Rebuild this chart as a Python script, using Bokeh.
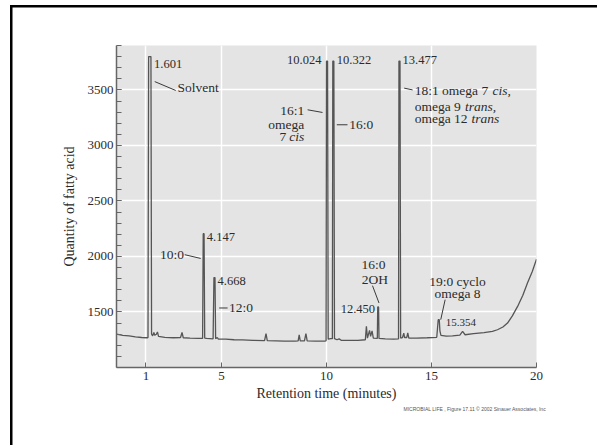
from bokeh.plotting import figure
from bokeh.models import FixedTicker, Title, ColumnDataSource
from bokeh.core.properties import value
from bokeh.embed import file_html
from bokeh.resources import INLINE

# ---- chromatogram trace (retention time in minutes, quantity) ----
time_min = [0.0, 0.3, 0.6, 0.9, 1.2, 1.45, 1.50, 1.53, 1.64, 1.67, 1.72, 1.78, 1.82, 1.90, 1.95, 2.0,
            2.3, 2.7, 3.05, 3.12, 3.18, 3.5, 3.9, 4.10, 4.13, 4.17, 4.20, 4.3, 4.6, 4.64, 4.69, 4.72,
            4.8, 4.85, 5.2, 5.6, 6.0, 6.5, 7.05, 7.12, 7.18, 7.6, 8.0, 8.5, 8.65, 8.7, 8.75, 8.95,
            9.02, 9.08, 9.5, 9.9, 9.98, 10.0, 10.05, 10.08, 10.2, 10.28, 10.30, 10.35, 10.38, 10.5,
            10.6, 10.7, 11.0, 11.5, 11.85, 11.9, 11.95, 12.05, 12.1, 12.17, 12.23, 12.42, 12.44,
            12.48, 12.5, 12.8, 13.2, 13.43, 13.45, 13.5, 13.53, 13.62, 13.68, 13.72, 13.82, 13.87,
            13.92, 14.3, 14.8, 15.25, 15.32, 15.37, 15.4, 15.45, 15.7, 16.0, 16.35, 16.48, 16.6,
            17.0, 17.5, 17.9, 18.14, 18.4, 18.62, 18.85, 19.1, 19.35, 19.57, 19.8, 20.0]
quantity = [1300, 1290, 1285, 1275, 1270, 1268, 1270, 3800, 3800, 1300, 1285, 1315, 1290, 1300, 1320, 1280,
            1272, 1268, 1270, 1315, 1268, 1265, 1262, 1262, 2205, 2205, 1265, 1262, 1258, 1810, 1810, 1260,
            1270, 1255, 1255, 1250, 1248, 1245, 1242, 1305, 1242, 1240, 1238, 1238, 1240, 1295, 1240, 1240,
            1305, 1240, 1238, 1238, 1240, 3760, 3760, 1255, 1260, 1260, 3760, 3760, 1260, 1250,
            1258, 1245, 1245, 1245, 1250, 1370, 1265, 1335, 1280, 1330, 1265, 1262, 1545,
            1545, 1262, 1258, 1255, 1258, 3760, 3760, 1265, 1270, 1310, 1270, 1270, 1312,
            1265, 1265, 1268, 1272, 1430, 1430, 1330, 1290, 1282, 1285, 1292, 1325, 1295,
            1305, 1315, 1325, 1340, 1365, 1400, 1465, 1550, 1650, 1761, 1865, 1975]

# ---- peak annotations ----
ann_text = ["1.601", "Solvent", "4.147", "10:0", "4.668", "12:0", "10.024", "10.322", "13.477",
            "16:1", "omega", "7", "cis", "16:0",
            "18:1 omega 7 ", "cis,", "omega 9 ", "trans,", "omega 12 ", "trans",
            "16:0", "2OH", "12.450", "19:0 cyclo", "omega 8", "15.354"]
ann_x = [1.79, 2.9, 4.3, 3.22, 4.81, 5.36, 9.76, 10.49, 13.62,
         8.94, 8.94, 8.08, 8.94, 11.08,
         14.2, 17.9, 14.2, 16.6, 14.2, 16.9,
         12.24, 12.3, 12.31, 16.24, 16.24, 15.68]
ann_y = [3735, 3522, 2175, 2022, 1775, 1538, 3771, 3771, 3771,
         3315, 3188, 3076, 3076, 3186,
         3492, 3492, 3351, 3351, 3246, 3246,
         1926, 1797, 1527, 1775, 1662, 1401]
ann_align = ["left", "left", "left", "right", "left", "left", "right", "left", "left",
             "right", "right", "right", "right", "left",
             "left", "left", "left", "left", "left", "left",
             "center", "center", "right", "center", "center", "left"]
ann_style = ["normal"] * 12 + ["italic", "normal", "normal", "italic", "normal", "italic", "normal", "italic"] + ["normal"] * 6
ann_size = ["12.5px", "13.5px", "12.5px", "13.5px", "12.5px", "13.5px", "12.5px", "12.5px", "12.5px",
            "13.5px", "13.5px", "13.5px", "13.5px", "13.5px",
            "13.5px", "13.5px", "13.5px", "13.5px", "13.5px", "13.5px",
            "13.5px", "13.5px", "12.5px", "13.5px", "13.5px", "11px"]

# leader lines
lead_x0 = [1.82, 3.25, 4.89, 9.10, 10.49, 13.70, 12.19, 15.65]
lead_y0 = [3575, 2016, 1536, 3321, 3186, 3516, 1737, 1611]
lead_x1 = [2.82, 4.01, 5.29, 9.81, 11.00, 14.10, 12.50, 15.44]
lead_y1 = [3495, 1982, 1536, 3297, 3186, 3500, 1581, 1431]

# ---- axes ----
x_tick_pos = [1.4, 5, 10, 15, 20]
x_tick_labels = ["1", "5", "10", "15", "20"]
y_major_ticks = [1500, 2000, 2500, 3000, 3500]
y_minor_ticks = list(range(1000, 4000, 100))

FONT = "Liberation Serif"
TXT = "#2b2b2b"

p = figure(width=597, height=445, x_range=(0, 20), y_range=(1000, 3900),
           output_backend="svg", toolbar_location=None,
           min_border_left=116, min_border_right=61, min_border_top=45, min_border_bottom=78)
p.background_fill_color = "#e4e4e4"
p.border_fill_color = None
p.outline_line_color = None
# slide frame (black top and left edges) painted behind the transparent canvas
p.styles = {
    "background": ("linear-gradient(#000, #000) 10px 5px / 600px 2.5px no-repeat, "
                   "linear-gradient(#000, #000) 10px 5px / 2.5px 460px no-repeat, #ffffff"),
}

p.line(time_min, quantity, line_color="#555555", line_width=1.3)

p.segment(lead_x0, lead_y0, lead_x1, lead_y1, line_color="#3a3a3a", line_width=1)

src = ColumnDataSource(dict(x=ann_x, y=ann_y, text=ann_text, align=ann_align,
                            style=ann_style, size=ann_size))
p.text(x="x", y="y", text="text", source=src, text_align="align", text_font_style="style",
       text_font_size="size", text_baseline="middle", text_color=TXT, text_font=value(FONT))

# axes styling
p.xaxis.ticker = FixedTicker(ticks=x_tick_pos)
p.xaxis.major_label_overrides = {k: v for k, v in zip(x_tick_pos, x_tick_labels)}
p.yaxis.ticker = FixedTicker(ticks=y_major_ticks, minor_ticks=y_minor_ticks)
for ax in (p.xaxis, p.yaxis):
    ax.axis_line_color = "#666666"
    ax.axis_line_width = 1.5
    ax.major_tick_line_color = "#666666"
    ax.minor_tick_line_color = "#666666"
    ax.major_tick_in = 5
    ax.major_tick_out = 0
    ax.minor_tick_in = 5
    ax.minor_tick_out = 0
    ax.major_label_text_font = FONT
    ax.major_label_text_font_size = "13px"
    ax.major_label_text_color = TXT
    ax.axis_label_text_font = FONT
    ax.axis_label_text_font_size = "14px"
    ax.axis_label_text_font_style = "normal"
    ax.axis_label_text_color = TXT
p.xaxis.minor_tick_line_color = None
p.xaxis.major_label_standoff = 4
p.xaxis.axis_label = "Retention time (minutes)"
p.xaxis.axis_label_standoff = 3
p.yaxis.axis_label = "Quantity of fatty acid"
p.yaxis.major_label_standoff = 3
p.yaxis.axis_label_standoff = 8

p.xgrid.ticker = FixedTicker(ticks=x_tick_pos)
p.ygrid.ticker = FixedTicker(ticks=y_major_ticks)
p.grid.grid_line_color = "white"
p.grid.grid_line_width = 1.5

# credit line under the x-axis title
p.add_layout(Title(text="MICROBIAL LIFE , Figure 17.11  \u00a9 2002 Sinauer Associates, Inc",
                   align="right", text_font="Liberation Sans", text_font_size="5px",
                   text_font_style="normal", text_color="#555555", standoff=0, offset=-11), "below")

open("out.html", "w").write(file_html(p, INLINE))
